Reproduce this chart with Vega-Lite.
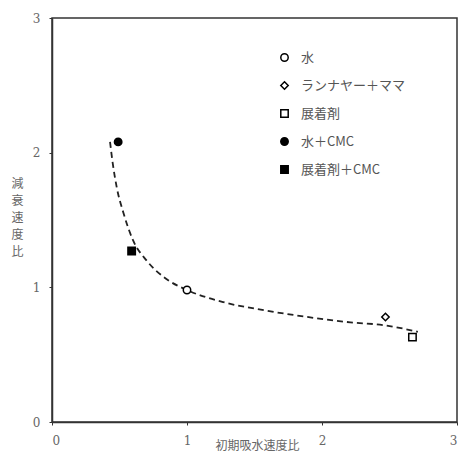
{
  "$schema": "https://vega.github.io/schema/vega-lite/v6.json",
  "width": 405,
  "height": 404,
  "autosize": "none",
  "padding": {"left": 52, "top": 18, "right": 2, "bottom": 40},
  "background": "white",
  "config": {
    "view": {"stroke": "#333", "strokeWidth": 1.5},
    "font": "DejaVu Serif",
    "axis": {"grid": false, "domainColor": "#333", "domainWidth": 1.5, "tickColor": "#333", "tickSize": 3, "labelColor": "#666", "labelFont": "DejaVu Serif", "labelFontSize": 12, "titleColor": "#666", "titleFont": "Noto Sans CJK JP", "titleFontWeight": "normal", "titleFontSize": 12}
  },
  "datasets": {
    "points": [
      {"x": 0.49, "y": 2.08, "series": "水＋CMC"},
      {"x": 0.59, "y": 1.27, "series": "展着剤＋CMC"},
      {"x": 1.0, "y": 0.98, "series": "水"},
      {"x": 2.47, "y": 0.78, "series": "ランナヤー＋ママ"},
      {"x": 2.67, "y": 0.63, "series": "展着剤"}
    ],
    "curve": [
      {"x": 0.43, "y": 2.08},
      {"x": 0.45, "y": 1.92},
      {"x": 0.48, "y": 1.74},
      {"x": 0.53, "y": 1.55},
      {"x": 0.60, "y": 1.35},
      {"x": 0.70, "y": 1.20},
      {"x": 0.85, "y": 1.06},
      {"x": 1.0, "y": 0.98},
      {"x": 1.27, "y": 0.89},
      {"x": 1.57, "y": 0.83},
      {"x": 1.89, "y": 0.78},
      {"x": 2.21, "y": 0.74},
      {"x": 2.45, "y": 0.72},
      {"x": 2.71, "y": 0.67}
    ]
  },
  "layer": [
    {
      "data": {"name": "curve"},
      "mark": {"type": "line", "interpolate": "monotone", "color": "#222", "strokeWidth": 1.8, "strokeDash": [6, 4]},
      "encoding": {
        "x": {"field": "x", "type": "quantitative", "scale": {"domain": [0, 3], "nice": false}, "axis": {"values": [0, 1, 2, 3], "format": "d", "labelPadding": 10, "title": "初期吸水速度比", "titleY": 18, "titleX": 205}},
        "y": {"field": "y", "type": "quantitative", "scale": {"domain": [0, 3], "nice": false}, "axis": {"values": [0, 1, 2, 3], "format": "d", "labelPadding": 9, "title": ["減", "衰", "速", "度", "比"], "titleAngle": 0, "titleX": -35, "titleY": 165, "titleLineHeight": 17, "titleBaseline": "middle", "titleAlign": "center"}}
      }
    },
    {
      "data": {"name": "points"},
      "mark": {"type": "point", "strokeWidth": 1.5, "size": 55, "opacity": 1},
      "encoding": {
        "x": {"field": "x", "type": "quantitative"},
        "y": {"field": "y", "type": "quantitative"},
        "shape": {"field": "series", "type": "nominal", "title": null,
          "scale": {"domain": ["水", "ランナヤー＋ママ", "展着剤", "水＋CMC", "展着剤＋CMC"], "range": ["circle", "diamond", "square", "circle", "square"]},
          "legend": {"orient": "none", "legendX": 226, "legendY": 33, "padding": 0, "rowPadding": 13, "labelFontSize": 13, "labelColor": "#555", "labelFont": "Noto Sans CJK JP", "symbolStrokeWidth": 1.5, "symbolSize": 55, "labelOffset": 10}},
        "fill": {"field": "series", "type": "nominal", "title": null,
          "scale": {"domain": ["水", "ランナヤー＋ママ", "展着剤", "水＋CMC", "展着剤＋CMC"], "range": ["white", "white", "white", "black", "black"]}},
        "stroke": {"field": "series", "type": "nominal", "title": null,
          "scale": {"domain": ["水", "ランナヤー＋ママ", "展着剤", "水＋CMC", "展着剤＋CMC"], "range": ["black", "black", "black", "black", "black"]}}
      }
    }
  ]
}
